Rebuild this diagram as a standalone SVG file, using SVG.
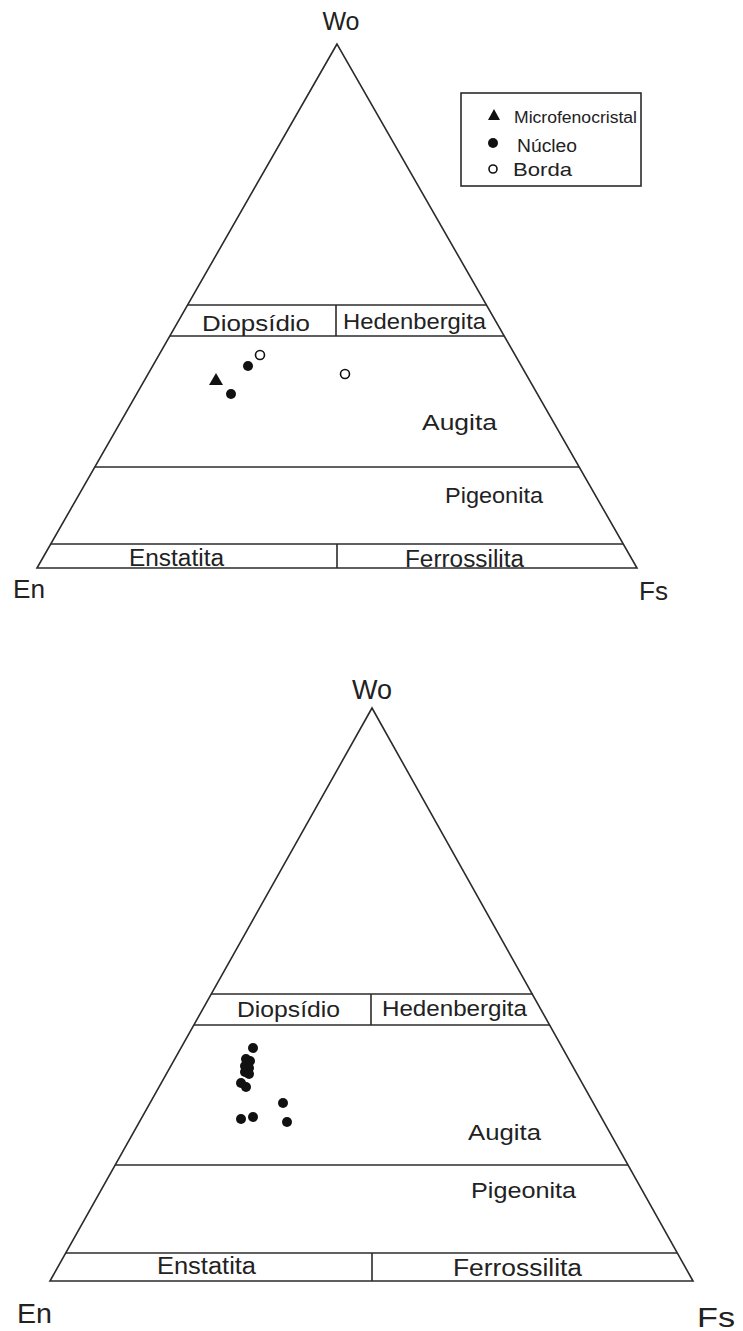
<svg xmlns="http://www.w3.org/2000/svg" width="743" height="1331" viewBox="0 0 743 1331">
<style>
.ln{fill:none;stroke:#2b2b2b;stroke-width:1.6;stroke-linejoin:miter}
.t{font-family:"Liberation Sans",Arial,sans-serif;fill:#222}
.dot{fill:#111}
.open{fill:#fff;stroke:#111;stroke-width:1.6}
</style>
<rect width="743" height="1331" fill="#fff"/>

<g id="diagram1">
  <g id="frame1">
    <polygon class="ln" points="337,44 37,568 637,568"/>
    <line class="ln" x1="187" y1="305" x2="487" y2="305"/>
    <line class="ln" x1="170" y1="336" x2="504" y2="336"/>
    <line class="ln" x1="336" y1="305" x2="336" y2="336"/>
    <line class="ln" x1="95" y1="467" x2="579" y2="467"/>
    <line class="ln" x1="51" y1="544" x2="623" y2="544"/>
    <line class="ln" x1="337" y1="544" x2="337" y2="568"/>
  </g>
  <g id="labels1">
    <text class="t" x="341" y="30" font-size="25" text-anchor="middle">Wo</text>
    <text class="t" x="13" y="598" font-size="25" textLength="32" lengthAdjust="spacingAndGlyphs">En</text>
    <text class="t" x="639" y="600" font-size="25" textLength="29" lengthAdjust="spacingAndGlyphs">Fs</text>
    <text class="t" x="202" y="331" font-size="22" textLength="108" lengthAdjust="spacingAndGlyphs">Diopsídio</text>
    <text class="t" x="343" y="329" font-size="22" textLength="143" lengthAdjust="spacingAndGlyphs">Hedenbergita</text>
    <text class="t" x="422" y="430" font-size="22" textLength="75" lengthAdjust="spacingAndGlyphs">Augita</text>
    <text class="t" x="445" y="503" font-size="22" textLength="98" lengthAdjust="spacingAndGlyphs">Pigeonita</text>
    <text class="t" x="129" y="566" font-size="23" textLength="95" lengthAdjust="spacingAndGlyphs">Enstatita</text>
    <text class="t" x="405" y="567" font-size="23" textLength="119" lengthAdjust="spacingAndGlyphs">Ferrossilita</text>
  </g>
  <g id="legend">
    <rect class="ln" x="461" y="93" width="180" height="93"/>
    <polygon class="dot" points="494,109 500,120 488,120"/>
    <text class="t" x="514" y="123" font-size="16" textLength="123" lengthAdjust="spacingAndGlyphs">Microfenocristal</text>
    <circle class="dot" cx="493" cy="143" r="5"/>
    <text class="t" x="517" y="152" font-size="18" textLength="60" lengthAdjust="spacingAndGlyphs">Núcleo</text>
    <circle class="open" cx="493" cy="169" r="4"/>
    <text class="t" x="513" y="176" font-size="19" textLength="59" lengthAdjust="spacingAndGlyphs">Borda</text>
  </g>
  <g id="points1">
    <circle class="open" cx="260" cy="355" r="4.5"/>
    <circle class="dot" cx="248" cy="366" r="5"/>
    <polygon class="dot" points="216,373 223,385 209,385"/>
    <circle class="dot" cx="231" cy="394" r="5"/>
    <circle class="open" cx="345" cy="374" r="4.5"/>
  </g>
</g>

<g id="diagram2">
  <g id="frame2">
    <polygon class="ln" points="372,708 50,1281 693,1281"/>
    <line class="ln" x1="211" y1="994" x2="533" y2="994"/>
    <line class="ln" x1="194" y1="1025" x2="550" y2="1025"/>
    <line class="ln" x1="371" y1="994" x2="371" y2="1025"/>
    <line class="ln" x1="115" y1="1165" x2="628" y2="1165"/>
    <line class="ln" x1="66" y1="1253" x2="677" y2="1253"/>
    <line class="ln" x1="372" y1="1253" x2="372" y2="1281"/>
  </g>
  <g id="labels2">
    <text class="t" x="372" y="699" font-size="27" text-anchor="middle">Wo</text>
    <text class="t" x="17" y="1323" font-size="28" textLength="35" lengthAdjust="spacingAndGlyphs">En</text>
    <text class="t" x="697" y="1327" font-size="28" textLength="38" lengthAdjust="spacingAndGlyphs">Fs</text>
    <text class="t" x="237" y="1017" font-size="22" textLength="103" lengthAdjust="spacingAndGlyphs">Diopsídio</text>
    <text class="t" x="382" y="1016" font-size="22" textLength="145" lengthAdjust="spacingAndGlyphs">Hedenbergita</text>
    <text class="t" x="468" y="1140" font-size="22" textLength="73" lengthAdjust="spacingAndGlyphs">Augita</text>
    <text class="t" x="471" y="1198" font-size="22" textLength="105" lengthAdjust="spacingAndGlyphs">Pigeonita</text>
    <text class="t" x="157" y="1274" font-size="23" textLength="99" lengthAdjust="spacingAndGlyphs">Enstatita</text>
    <text class="t" x="453" y="1276" font-size="23" textLength="129" lengthAdjust="spacingAndGlyphs">Ferrossilita</text>
  </g>
  <g id="points2">
    <circle class="dot" cx="253" cy="1048" r="5"/>
    <circle class="dot" cx="246" cy="1059" r="5"/>
    <circle class="dot" cx="250" cy="1061" r="5"/>
    <circle class="dot" cx="245" cy="1066" r="5"/>
    <circle class="dot" cx="249" cy="1068" r="5"/>
    <circle class="dot" cx="245" cy="1072" r="5"/>
    <circle class="dot" cx="249" cy="1074" r="5"/>
    <circle class="dot" cx="241" cy="1083" r="5"/>
    <circle class="dot" cx="246" cy="1087" r="5"/>
    <circle class="dot" cx="283" cy="1103" r="5"/>
    <circle class="dot" cx="241" cy="1119" r="5"/>
    <circle class="dot" cx="253" cy="1117" r="5"/>
    <circle class="dot" cx="287" cy="1122" r="5"/>
  </g>
</g>
</svg>
